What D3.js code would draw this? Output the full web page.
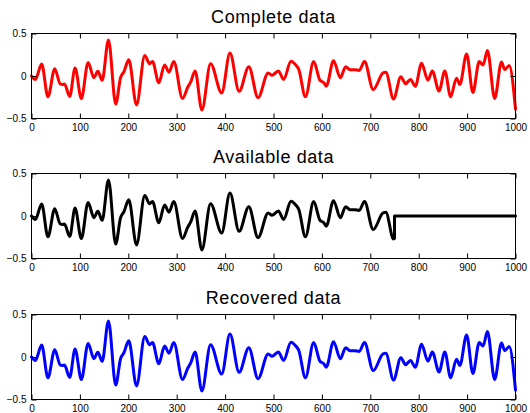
<!DOCTYPE html>
<html lang="en">
<head>
  <meta charset="utf-8">
  <title>Complete, available and recovered data</title>
  <style>
    body {
      margin: 0;
      background: #fff;
    }

    .title {
      font: 18px "Liberation Sans", Arial, Helvetica, sans-serif;
      letter-spacing: 0.6px;
      text-anchor: middle;
      fill: #000;
    }

    .tick text {
      font: 10px "Liberation Sans", Arial, Helvetica, sans-serif;
      fill: #000;
    }

    .tick line {
      stroke: #000;
    }

    .box {
      fill: none;
      stroke: #000;
      stroke-width: 1;
    }

    .signal {
      fill: none;
      stroke-width: 3;
      stroke-linejoin: round;
      stroke-linecap: round;
    }
  </style>
</head>
<body>
  <svg id="chart"></svg>

  <script src="https://d3js.org/d3.v7.min.js"></script>
  <script>
// sample positions and values (local peaks, troughs and shoulders)
const sampleIdx = [0, 8, 21, 34, 48, 59, 64, 68, 79, 90, 103, 117, 129, 137, 146, 159, 174, 184, 191, 201,
  217, 234, 244, 250, 263, 275, 284, 294, 312, 323, 329, 338, 352, 370, 393, 410, 429, 449, 468, 489,
  497, 510, 521, 536, 546, 552, 566, 583, 596, 604, 609, 624, 638, 649, 658, 668, 677, 688, 706, 726,
  732, 748, 763, 773, 783, 793, 806, 819, 828, 842, 854, 866, 878, 885, 899, 912, 925, 933, 942, 957,
  971, 978, 987, 1000];

const complete = [0.0, -0.04, 0.14, -0.245, 0.085, -0.09, -0.10, -0.095, -0.24, 0.095, -0.265, 0.16, -0.02, 0.055, -0.05, 0.425, -0.33, -0.02, 0.05, 0.19,
  -0.34, 0.24, 0.145, 0.17, -0.08, 0.13, 0.045, 0.17, -0.265, -0.13, -0.07, 0.06, -0.40, 0.145, -0.2, 0.27, -0.18, 0.11, -0.255, 0.035,
  0.008, 0.06, -0.04, 0.175, 0.13, 0.08, -0.245, 0.17, -0.05, -0.08, -0.12, 0.18, -0.02, 0.11, 0.075, 0.075, 0.065, 0.17, -0.16, 0.035,
  0.045, -0.27, -0.01, -0.09, -0.04, -0.12, 0.15, -0.05, 0.06, -0.175, 0.06, -0.245, -0.025, -0.1, 0.26, -0.195, 0.17, 0.13, 0.30, -0.265,
  0.165, 0.075, 0.125, -0.39];

// the recovered signal is indistinguishable from the complete one in the picture
const recovered = complete.slice();

// samples after this index are missing (set to zero) in the available data
const cutoff = 750;
const cutoffValue = -0.26;

const titles = ['Complete data', 'Available data', 'Recovered data'];
const colors = ['#ff0000', '#000000', '#0000ff'];

const xTicks = [0, 100, 200, 300, 400, 500, 600, 700, 800, 900, 1000];
const yTicks = [-0.5, 0, 0.5];
const yTickLabels = ['\u22120.5', '0', '0.5'];

const width = 530;
const height = 413;

const svg = d3.select('#chart')
  .attr('width', width)
  .attr('height', height);

const left = 31.5;
const right = 515.5;
const panelH = 85;
const panelTops = [33.5, 173.5, 314.5];

const x = d3.scaleLinear()
  .domain([0, 1000])
  .range([left, right]);

const line = d3.line()
  .x(d => x(d[0]))
  .y(d => d[1])
  .curve(d3.curveMonotoneX);

// build point lists for each panel
const completePts = sampleIdx.map((t, i) => [t, complete[i]]);
const recoveredPts = sampleIdx.map((t, i) => [t, recovered[i]]);
const availablePts = completePts.filter(d => d[0] <= cutoff);
availablePts.push([cutoff, cutoffValue]);
const series = [completePts, availablePts, recoveredPts];

panelTops.forEach((top, k) => {
  const y = d3.scaleLinear()
    .domain([-0.5, 0.5])
    .range([top + panelH, top]);

  const g = svg.append('g');

  // title
  g.append('text')
    .attr('class', 'title')
    .attr('x', (left + right) / 2)
    .attr('y', top - 11)
    .text(titles[k]);

  // signal
  const pts = series[k].map(d => [d[0], y(d[1])]);
  g.append('path')
    .attr('class', 'signal')
    .attr('stroke', colors[k])
    .attr('d', line(pts));

  if (k === 1) {
    // vertical jump to zero and the flat missing part
    const flat = d3.line().x(d => x(d[0])).y(d => y(d[1]));
    g.append('path')
      .attr('class', 'signal')
      .attr('stroke', colors[k])
      .attr('stroke-linecap', 'butt')
      .attr('stroke-linejoin', 'miter')
      .attr('d', flat([[cutoff, cutoffValue], [cutoff, 0], [1000, 0]]));
  }

  // axes with inward ticks
  const bottom = g.append('g')
    .attr('transform', `translate(0,${top + panelH})`)
    .call(d3.axisBottom(x).tickValues(xTicks).tickSize(-5).tickPadding(5).tickFormat(d3.format('d')));
  g.append('g')
    .attr('transform', `translate(0,${top})`)
    .call(d3.axisTop(x).tickValues(xTicks).tickSize(-5).tickFormat(''));
  g.append('g')
    .attr('transform', `translate(${left},0)`)
    .call(d3.axisLeft(y).tickValues(yTicks).tickSize(-5).tickPadding(5)
      .tickFormat((d, i) => yTickLabels[i]));
  g.append('g')
    .attr('transform', `translate(${right},0)`)
    .call(d3.axisRight(y).tickValues(yTicks).tickSize(-5).tickFormat(''));

  g.selectAll('.domain').remove();

  // axes box
  g.append('rect')
    .attr('class', 'box')
    .attr('x', left)
    .attr('y', top)
    .attr('width', right - left)
    .attr('height', panelH);
});
  </script>
</body>
</html>
